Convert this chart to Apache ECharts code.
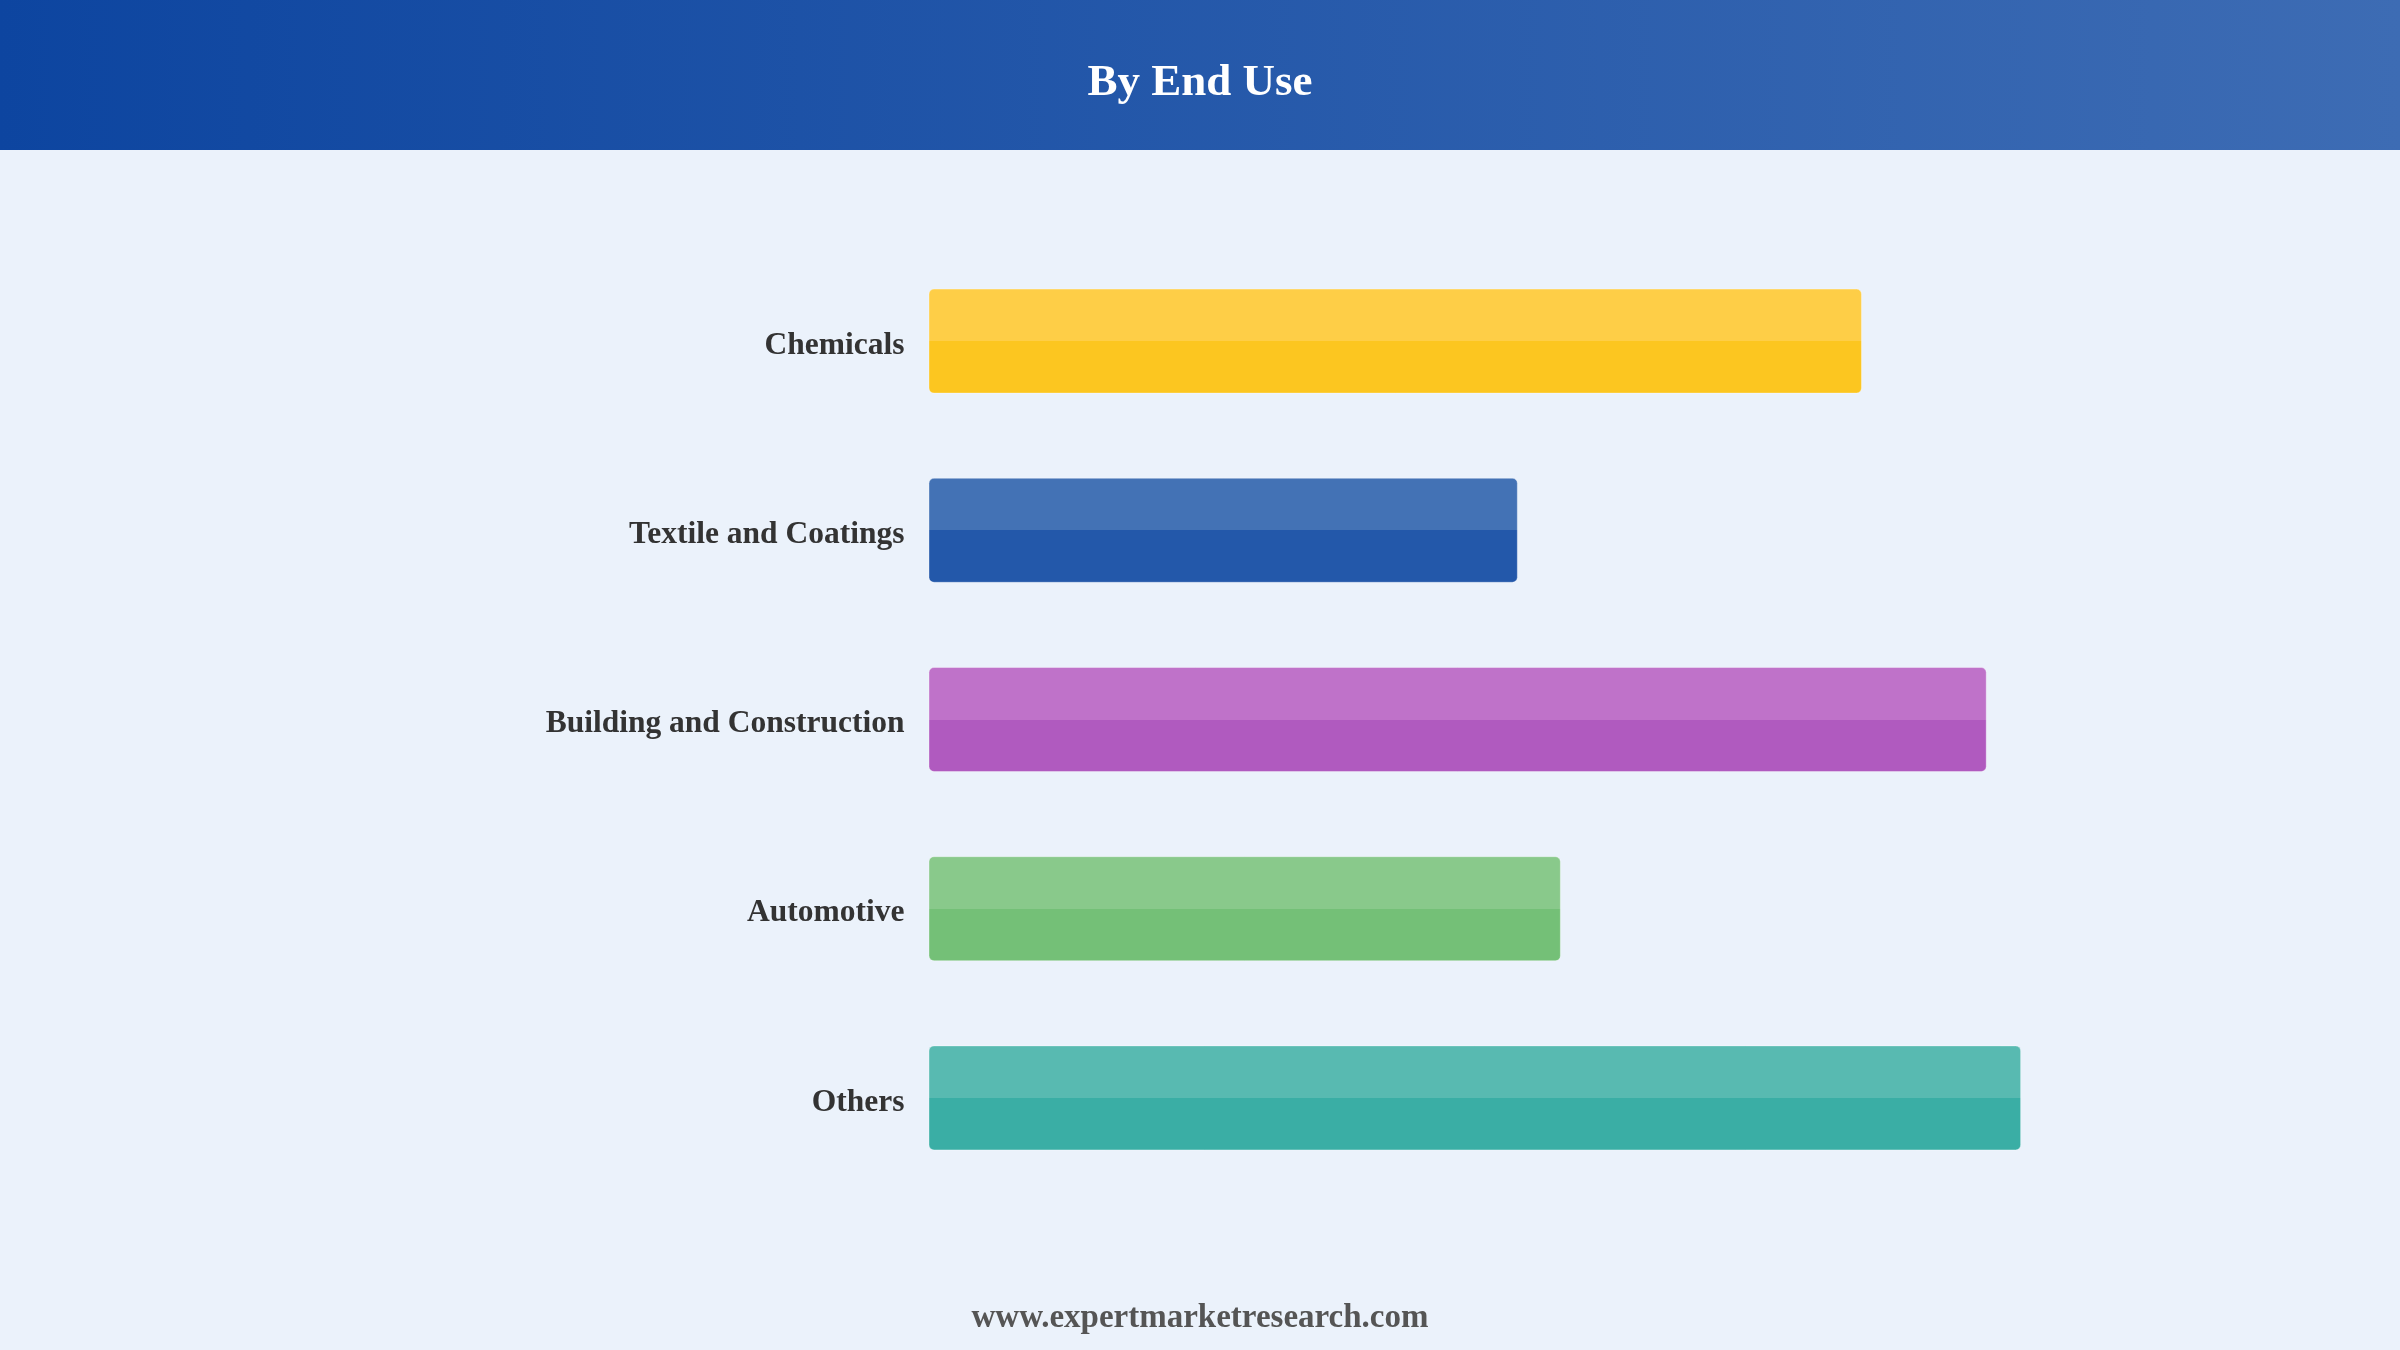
<!DOCTYPE html>
<html>
<head>
<meta charset="utf-8">
<script src="https://cdn.jsdelivr.net/npm/echarts@6/dist/echarts.min.js"></script>
<style>
html,body{margin:0;padding:0;background:#EBF2FB;}
#chart{width:2400px;height:1350px;}
</style>
</head>
<body>
<div id="chart"></div>
<script>
const titleText = 'By End Use';
const footerText = 'www.expertmarketresearch.com';
const categories = ['Chemicals', 'Textile and Coatings', 'Building and Construction', 'Automotive', 'Others'];
const values = [21.7, 13.7, 24.6, 14.7, 25.4];
const lightColors = ['#FECE47', '#4372B5', '#BF72C9', '#89C98B', '#58BAB1'];
const darkColors = ['#FCC620', '#2358AA', '#B05ABF', '#74C077', '#3AAEA5'];

const chart = echarts.init(document.getElementById('chart'));
const serif = '"Liberation Serif", "Times New Roman", serif';

const barData = values.map((v, i) => ({
  value: v,
  itemStyle: {
    color: {
      type: 'linear', x: 0, y: 0, x2: 0, y2: 1,
      colorStops: [
        {offset: 0, color: lightColors[i]},
        {offset: 0.5, color: lightColors[i]},
        {offset: 0.5, color: darkColors[i]},
        {offset: 1, color: darkColors[i]}
      ]
    }
  }
}));

chart.setOption({
  backgroundColor: '#EBF2FB',
  animation: false,
  graphic: [
    {
      type: 'rect', left: 0, top: 0, z: 0,
      shape: {width: 2400, height: 150},
      style: {
        fill: {
          type: 'linear', x: 0, y: 0, x2: 1, y2: 0,
          colorStops: [{offset: 0, color: '#0D45A0'}, {offset: 1, color: '#3D6CB4'}]
        }
      }
    },
    {
      type: 'text', x: 1200, y: 83, z: 10,
      style: {
        text: titleText, fill: '#FFFFFF', font: 'bold 45px ' + serif,
        textAlign: 'center', textVerticalAlign: 'middle'
      }
    },
    {
      type: 'text', x: 1200, y: 1318, z: 10,
      style: {
        text: footerText, fill: '#555555', font: 'bold 33px ' + serif,
        textAlign: 'center', textVerticalAlign: 'middle'
      }
    }
  ],
  grid: {left: 928.5, right: 181, top: 246.5, bottom: 157.5, containLabel: false},
  xAxis: {
    type: 'value', min: 0, max: 30,
    show: false
  },
  yAxis: {
    type: 'category', data: categories, inverse: true,
    axisLine: {show: false}, axisTick: {show: false}, splitLine: {show: false},
    axisLabel: {
      margin: 24,
      formatter: '{a|{value}}',
      rich: {
        a: {
          color: '#333333', fontSize: 31.5, fontWeight: 'bold', fontFamily: serif,
          padding: [9, 0, 0, 0]
        }
      }
    }
  },
  series: [{
    type: 'bar',
    data: barData,
    barWidth: 105,
    itemStyle: {
      borderRadius: 5,
      borderColor: 'rgba(255,255,255,0.35)',
      borderWidth: 1
    }
  }]
});
</script>
</body>
</html>
